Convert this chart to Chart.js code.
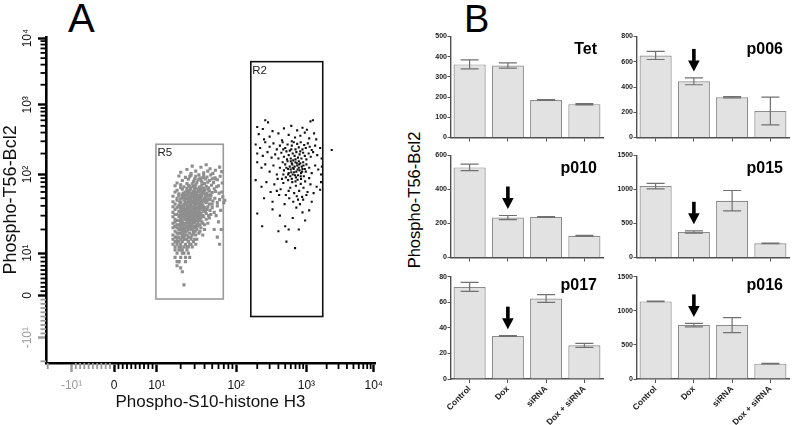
<!DOCTYPE html>
<html><head><meta charset="utf-8">
<script src="https://cdn.jsdelivr.net/npm/chart.js@4.4.0/dist/chart.umd.min.js"></script>
<style>
html,body{margin:0;padding:0;background:#fff;}
body{width:793px;height:425px;position:relative;overflow:hidden;font-family:"Liberation Sans",Arial,sans-serif;}
canvas{position:absolute;}
.lbl{position:absolute;white-space:nowrap;line-height:1;color:#000;}
</style></head><body>
<div class="lbl" style="left:68px;top:-2px;font-size:40px;">A</div>
<div class="lbl" style="left:464px;top:-0.5px;font-size:38px;">B</div>
<div class="lbl" style="left:414px;top:200px;font-size:16.5px;transform:translate(-50%,-50%) rotate(-90deg);">Phospho-T56-Bcl2</div>
<canvas id="cA" width="400" height="425" style="left:0;top:0"></canvas>
<canvas id="b1" width="181" height="118" style="left:425px;top:28px"></canvas>
<canvas id="b2" width="181" height="118" style="left:612px;top:28px"></canvas>
<canvas id="b3" width="181" height="119" style="left:425px;top:147px"></canvas>
<canvas id="b4" width="181" height="119" style="left:612px;top:147px"></canvas>
<canvas id="b5" width="181" height="157" style="left:425px;top:268px"></canvas>
<canvas id="b6" width="181" height="157" style="left:612px;top:268px"></canvas>
<script>
// ---------------- Panel A data ----------------
const facsTickValues = [-10, 0, 10, 100, 1000, 10000];
const facsTickLabels = ['-10\u00B9', '0', '10\u00B9', '10\u00B2', '10\u00B3', '10\u2074'];
const facsMinorTicks = [-20,-9,-8,-7,-6,-5,-4,-3,-2,-1,1,2,3,4,5,6,7,8,9,
  20,30,40,50,60,70,80,90,200,300,400,500,600,700,800,900,2000,3000,4000,5000,6000,7000,8000,9000];
const gateR5 = [9.8, 69, -0.85, 272];     // xMin, xMax, yMin, yMax
const gateR2 = [162, 1750, -5, 4430];

const r5Points = [
[28,132],[36,127],[42,138],[24,118],[31,112],[47,121],[55,115],[62,128],[39,106],[27,103],[51,104],[66,110],[20,108],[44,112],
[19,96],[23,92],[27,98],[31,95],[35,90],[39,97],[43,93],[48,99],[54,91],[21,84],[25,87],[29,82],[33,86],[37,80],[41,88],[46,84],[52,79],[58,86],[18,78],[24,77],[28,76],[32,79],[36,84],[40,77],[44,80],[50,88],[26,94],[34,99],[30,88],[38,91],
[17,72],[20,74],[22,70],[25,73],[27,68],[29,71],[31,74],[33,66],[35,70],[37,73],[39,67],[42,71],[45,68],[49,73],[53,66],[57,70],[18,63],[21,65],[23,60],[24,67],[26,62],[28,58],[30,64],[32,60],[34,63],[36,57],[38,61],[40,64],[43,58],[46,62],[50,59],[55,61],[19,57],[22,56],[25,58],[27,55],[29,61],[31,57],[33,55],[36,66],[41,56],[44,65],[48,56],[17,60],[20,68],[26,71],[35,62],[39,58],[30,69],[24,63],
[16,53],[18,50],[19,54],[21,51],[22,47],[23,53],[24,49],[25,45],[26,52],[27,48],[28,54],[29,44],[30,50],[31,46],[32,53],[33,42],[34,48],[35,51],[36,45],[37,54],[38,41],[39,47],[41,52],[42,44],[44,49],[46,42],[48,53],[51,46],[54,50],[58,44],[16,45],[17,42],[18,47],[19,41],[20,44],[21,55],[22,42],[23,44],[24,41],[25,50],[26,43],[27,41],[28,46],[29,52],[30,42],[31,49],[32,45],[33,51],[34,43],[35,46],[37,43],[40,49],[43,46],[45,54],[47,48],[50,42],[20,49],[27,45],[31,53],[36,50],
[16,39],[16,33],[17,36],[18,31],[18,38],[19,34],[20,37],[20,31],[21,35],[22,39],[22,32],[23,36],[24,30],[24,38],[25,33],[26,37],[26,31],[27,35],[28,39],[28,32],[29,36],[30,30],[30,38],[31,34],[32,37],[33,31],[34,35],[35,39],[36,32],[37,36],[38,30],[39,34],[40,38],[42,32],[43,36],[45,30],[47,35],[50,38],[53,33],[17,31],[19,39],[21,30],[23,33],[25,39],[27,30],[29,33],[31,31],[33,38],[35,33],[38,37],[41,35],[44,39],[48,31],[20,34],[24,35],[28,35],[32,33],[36,38],[26,34],[30,35],
[16,29],[16,24],[17,27],[17,22],[18,26],[19,29],[19,23],[20,27],[21,25],[21,29],[22,23],[23,27],[23,30],[24,25],[25,22],[25,28],[26,26],[27,23],[27,29],[28,26],[29,24],[30,28],[31,22],[31,26],[32,29],[33,24],[34,27],[35,23],[36,28],[37,25],[39,29],[40,23],[42,27],[44,24],[46,28],[18,23],[20,24],[22,28],[24,29],[26,23],[28,30],[30,25],[33,28],[35,26],[38,24],[17,25],[19,26],[21,22],[23,24],[25,26],[27,27],[29,28],[32,23],[20,29],[26,29],
[16,21],[16,17],[17,19],[17,16],[18,21],[18,18],[19,20],[19,16],[20,22],[20,18],[21,20],[21,17],[22,21],[22,16],[23,19],[24,21],[24,17],[25,20],[26,18],[26,22],[27,16],[28,20],[29,18],[30,21],[31,17],[32,20],[33,22],[34,18],[36,21],[38,17],[40,20],[17,22],[19,18],[21,19],[23,17],[25,16],[27,21],[29,19],[31,22],[35,19],[18,16],[20,20],[22,18],[24,19],[28,17],
[16,15],[16,13],[17,14],[17,12],[18,15],[18,13],[19,14],[19,12],[20,15],[20,13],[21,14],[22,15],[22,12],[23,13],[24,15],[24,12],[25,14],[26,13],[27,15],[28,12],[29,14],[31,13],[32,15],[18,14],[20,12],[21,16],[23,15],[25,12],[27,13],[30,15],
[17,11],[18,10],[19,11],[20,9],[21,11],[22,10],[23,8],[24,11],[17,9],[19,8],[21,10],[25,10],[18,8],[20,11],[26,9],
[19,8],[21,5.6],[22,2.5],[18,7],[20,6.5],[23,9],
[55,88],[60,72],[63,95],[66,60],[62,48],[58,40],[64,35],[68,52],[70,44],[56,30],[60,25],[65,20],[58,16],[62,13],[72,47],[67,78],[53,20],[61,58],
[19.5,45],[20.5,40],[21.5,36],[22.5,48],[23.5,43],[24.5,37],[25.5,47],[26.5,40],[27.5,44],[28.5,38],[29.5,47],[30.5,40],[31.5,43],[32.5,48],[33.5,37],[34.5,41],[35.5,44],[36.5,40],[37.5,47],[38.5,39],
[19.5,30],[20.5,26],[21.5,33],[22.5,27],[23.5,31],[24.5,26],[25.5,30],[26.5,33],[27.5,28],[28.5,31],[29.5,27],[30.5,32],[31.5,29],[32.5,26],[33.5,33],[34.5,29],[35.5,31],
[19.5,21],[20.5,23],[21.5,24],[22.5,20],[23.5,22],[24.5,24],[25.5,21],[26.5,24],[27.5,20],[28.5,22],[29.5,25],[30.5,19],
[21.5,58],[23.5,55],[25.5,60],[27.5,57],[29.5,56],[31.5,59],[33.5,61],[35.5,55],[37.5,59],[39.5,62],[26.5,65],[30.5,67],[34.5,68],[28.5,52],[32.5,50],[36.5,53],[40.5,45],[22.5,52],[24.5,55],[26.5,50]
];

const r2Points = [
[260,600],[285,560],[1150,580],[1250,600],[200,480],[240,450],[330,420],[480,460],[610,500],[740,430],[880,470],[1020,440],[1300,390],[210,380],[300,350],[400,390],[560,370],[690,340],[820,360],[950,400],[1100,330],[1400,320],[250,320],[450,310],[620,300],
[190,270],[220,240],[260,290],[300,250],[340,280],[380,230],[420,260],[460,290],[500,240],[540,270],[580,220],[620,260],[660,290],[700,230],[740,275],[780,245],[830,290],[880,230],[930,265],[980,240],[1050,280],[1120,250],[1200,225],[1350,260],[1600,240],[200,200],[240,185],[280,210],[320,175],[360,195],[400,170],[440,205],[480,180],[520,215],[560,190],[600,170],[640,200],[680,185],[720,210],[760,175],[800,195],[850,170],[900,205],[950,185],[1000,165],[1080,200],[1160,180],[1260,210],[1450,190],[1680,170],[530,165],[610,230],[700,165],[470,230],[820,215],
[460,150],[500,140],[540,155],[580,130],[620,145],[660,120],[700,150],[740,135],[780,125],[820,145],[860,130],[900,150],[950,120],[480,115],[520,125],[560,105],[600,118],[640,100],[680,130],[720,110],[760,98],[800,115],[840,105],[880,120],[920,95],[980,110],[470,100],[510,92],[550,120],[590,95],[630,140],[670,108],[710,92],[750,118],[790,140],[830,95],[870,110],[910,135],[1000,140],[1100,125],[1200,105],[1350,135],[1500,118],[1650,100],[1700,130],[200,150],[230,125],[260,140],[300,110],[340,135],[380,100],[420,125],[600,155],[650,160],[550,100],[690,98],[780,155],[640,125],[730,145],[610,108],
[190,85],[230,70],[270,80],[310,60],[350,75],[390,88],[430,65],[470,78],[510,55],[550,85],[590,68],[630,80],[670,58],[710,72],[750,86],[790,62],[830,76],[870,52],[910,68],[960,82],[1040,60],[1150,75],[1280,58],[1420,70],[1600,64],[250,50],[330,45],[410,55],[490,42],[570,50],[650,45],[730,53],[810,42],[900,48],[1000,55],[1200,45],[560,62],[620,88],[700,82],[840,88],[450,88],[1650,80],[1100,90],[380,62],[760,48],
[200,32],[235,22],[330,36],[420,30],[500,22],[560,20],[640,28],[720,38],[780,20],[880,33],[960,26],[520,14],[690,11.6],[1100,35],[400,19],
[2380,225]
];

// ---------------- Panel B data ----------------
const categories = ['Control', 'Dox', 'siRNA', 'Dox + siRNA'];
const tetMean  = [362, 356, 186, 165];   const tetErr  = [22, 13, 2, 3];
const p006Mean = [650, 445, 318, 210];   const p006Err = [32, 27, 5, 110];
const p010Mean = [530, 235, 238, 128];   const p010Err = [19, 12, 2, 2];
const p015Mean = [1050, 375, 835, 208];  const p015Err = [40, 18, 150, 3];
const p017Mean = [72, 33.6, 63, 26.3];   const p017Err = [3.5, 0.3, 3, 1.5];
const p016Mean = [1138, 790, 790, 225];  const p016Err = [5, 25, 110, 5];

Chart.defaults.font.family = '"Liberation Sans", Arial, sans-serif';

// biexponential-like display transform for the cytometry axes
const DEC = [1, 2.86, 4.51, 6.09];
function bx(v) {
  const a = Math.abs(v);
  let t;
  if (a <= 10) t = a / 10;
  else {
    const lv = Math.log10(a);
    const d = Math.min(Math.floor(lv), 3);
    t = DEC[d - 1] + (lv - d) * (DEC[d] - DEC[d - 1]);
  }
  return v < 0 ? -t : t;
}
const negCol = '#9a9a9a';

const facsPlugin = {
  id: 'facs',
  beforeDatasetsDraw(chart) {
    const {ctx, scales: {x, y}} = chart;
    const gate = (g, col, name) => {
      const x0 = x.getPixelForValue(bx(g[0])), x1 = x.getPixelForValue(bx(g[1]));
      const y0 = y.getPixelForValue(bx(g[3])), y1 = y.getPixelForValue(bx(g[2]));
      ctx.save();
      ctx.strokeStyle = col; ctx.lineWidth = 1.6;
      ctx.strokeRect(x0, y0, x1 - x0, y1 - y0);
      ctx.fillStyle = '#222'; ctx.font = '11.5px "Liberation Sans", Arial';
      ctx.textBaseline = 'top'; ctx.textAlign = 'left';
      ctx.fillText(name, x0 + 1.5, y0 + 3);
      ctx.restore();
    };
    gate(gateR5, '#9a9a9a', 'R5');
    gate(gateR2, '#111', 'R2');
  },
  afterDraw(chart) {
    const {ctx, chartArea: a, scales: {x, y}} = chart;
    ctx.save();
    ctx.lineWidth = 1.8;
    facsMinorTicks.forEach(v => {
      ctx.strokeStyle = v < 0 ? negCol : '#000';
      const px = x.getPixelForValue(bx(v));
      ctx.beginPath(); ctx.moveTo(px, a.bottom); ctx.lineTo(px, a.bottom + 6); ctx.stroke();
      const py = y.getPixelForValue(bx(v));
      ctx.beginPath(); ctx.moveTo(a.left, py); ctx.lineTo(a.left - 5.5, py); ctx.stroke();
    });
    ctx.restore();
  }
};

new Chart(document.getElementById('cA'), {
  type: 'scatter',
  data: {datasets: [
    {data: r5Points.map(p => ({x: bx(p[0]), y: bx(p[1])})), backgroundColor: '#8e8e8e', pointStyle: 'rect', pointRadius: 2.2, borderWidth: 0, pointHoverRadius: 0},
    {data: r2Points.map(p => ({x: bx(p[0]), y: bx(p[1])})), backgroundColor: '#111', pointStyle: 'rect', pointRadius: 1.5, borderWidth: 0, pointHoverRadius: 0}
  ]},
  options: {
    responsive: false, animation: false, devicePixelRatio: 1, events: [],
    layout: {padding: {left: 0, right: 25, top: 36.8, bottom: 0}},
    plugins: {legend: {display: false}, tooltip: {enabled: false}},
    scales: {
      x: {
        type: 'linear', min: -1.6, max: 6.12,
        afterBuildTicks: s => { s.ticks = facsTickValues.map(v => ({value: bx(v)})); },
        afterFit: s => { s.height = 62; },
        ticks: {callback: (v, i) => facsTickLabels[i], color: c => (c.tick && c.tick.value < 0) ? negCol : '#111',
                font: {size: 12}, padding: 6, autoSkip: false, maxRotation: 0, minRotation: 0},
        grid: {drawOnChartArea: false, drawTicks: true, tickLength: 9, tickWidth: 2.4,
               tickColor: c => (c.tick && c.tick.value < 0) ? negCol : '#000'},
        border: {display: true, color: '#000', width: 2.6},
        title: {display: true, text: 'Phospho-S10-histone H3', font: {size: 17}, color: '#111', padding: {top: 0, bottom: 12}}
      },
      y: {
        type: 'linear', min: -1.6, max: 6.12,
        afterBuildTicks: s => { s.ticks = facsTickValues.map(v => ({value: bx(v)})); },
        afterFit: s => { s.width = 46; },
        ticks: {callback: (v, i) => facsTickLabels[i], color: c => (c.tick && c.tick.value < 0) ? negCol : '#111',
                font: {size: 12}, padding: 0, autoSkip: false, minRotation: 90, maxRotation: 90, crossAlign: 'center'},
        grid: {drawOnChartArea: false, drawTicks: true, tickLength: 8, tickWidth: 2.4,
               tickColor: c => (c.tick && c.tick.value < 0) ? negCol : '#000'},
        border: {display: true, color: '#000', width: 2.6},
        title: {display: true, text: 'Phospho-T56-Bcl2', font: {size: 18}, color: '#111', padding: {top: 0, bottom: 0}}
      }
    }
  },
  plugins: [facsPlugin]
});

// ---------------- Panel B charts ----------------
function makeBar(id, name, means, errs, yMax, yStep, arrowIdx, showLabels, titleDy, axisW, axisH, padTop, padRight) {
  const extras = {
    id: 'extras' + id,
    afterDatasetsDraw(chart) {
      const {ctx, chartArea: a, scales: {y}} = chart;
      const meta = chart.getDatasetMeta(0);
      ctx.save();
      ctx.strokeStyle = '#707070'; ctx.lineWidth = 1.2;
      meta.data.forEach((bar, i) => {
        const yt = y.getPixelForValue(means[i] + errs[i]);
        const yb = y.getPixelForValue(means[i] - errs[i]);
        ctx.beginPath();
        ctx.moveTo(bar.x, yb); ctx.lineTo(bar.x, yt);
        ctx.moveTo(bar.x - 9, yt); ctx.lineTo(bar.x + 9, yt);
        ctx.moveTo(bar.x - 9, yb); ctx.lineTo(bar.x + 9, yb);
        ctx.stroke();
      });
      if (arrowIdx !== null) {
        const bar = meta.data[arrowIdx];
        const tip = y.getPixelForValue(means[arrowIdx] + errs[arrowIdx]) - 6.5;
        const top = tip - 22.5;
        ctx.fillStyle = '#000';
        ctx.fillRect(bar.x - 1.8, top, 3.6, 12);
        ctx.beginPath();
        ctx.moveTo(bar.x - 5.8, tip - 11); ctx.lineTo(bar.x + 5.8, tip - 11); ctx.lineTo(bar.x, tip);
        ctx.closePath(); ctx.fill();
      }
      ctx.fillStyle = '#000';
      ctx.font = 'bold 16px "Liberation Sans", Arial';
      ctx.textAlign = 'right'; ctx.textBaseline = 'alphabetic';
      ctx.fillText(name, a.right - 6.5, a.top + titleDy);
      ctx.restore();
    }
  };
  new Chart(document.getElementById(id), {
    type: 'bar',
    data: {labels: categories, datasets: [{data: means, backgroundColor: '#e2e2e2', borderColor: '#8c8c8c', borderWidth: 1.2,
      barPercentage: 0.84, categoryPercentage: 1}]},
    options: {
      responsive: false, animation: false, devicePixelRatio: 1, events: [],
      layout: {padding: {left: 0, right: padRight, top: padTop, bottom: 0}},
      plugins: {legend: {display: false}, tooltip: {enabled: false}},
      scales: {
        x: {
          afterFit: s => { s.height = axisH; },
          grid: {display: true, drawOnChartArea: false, offset: false, drawTicks: true, tickLength: 4, tickColor: '#555', tickWidth: 1},
          border: {display: true, color: '#505050', width: 1.4},
          ticks: {display: showLabels, font: {size: 8.5, weight: 'bold'}, color: '#222', minRotation: 45, maxRotation: 45, padding: 1, autoSkip: false}
        },
        y: {
          min: 0, max: yMax,
          afterFit: s => { s.width = axisW; },
          grid: {drawOnChartArea: false, drawTicks: true, tickLength: 3, tickColor: '#555', tickWidth: 1},
          border: {display: true, color: '#505050', width: 1.4},
          ticks: {stepSize: yStep, callback: v => String(v), font: {size: 7, weight: 'bold'}, color: '#222', padding: 0.5}
        }
      }
    },
    plugins: [extras]
  });
}

makeBar('b1', 'Tet',  tetMean,  tetErr,  500, 100, null, false, 17.5, 25.5, 8.5, 8.5, 2.5);
makeBar('b2', 'p006', p006Mean, p006Err, 800, 200, 1, false, 17.5, 24.5, 8.5, 8.5, 3.5);
makeBar('b3', 'p010', p010Mean, p010Err, 600, 200, 1, false, 17.2, 25.5, 8.5, 8.5, 2.5);
makeBar('b4', 'p015', p015Mean, p015Err, 1500, 500, 1, false, 17.2, 24.5, 8.5, 8.5, 3.5);
makeBar('b5', 'p017', p017Mean, p017Err, 80, 20, 1, true, 13, 25.5, 46, 8.7, 2.5);
makeBar('b6', 'p016', p016Mean, p016Err, 1500, 500, 1, true, 13, 24.5, 46, 8.7, 3.5);
</script>
</body></html>
